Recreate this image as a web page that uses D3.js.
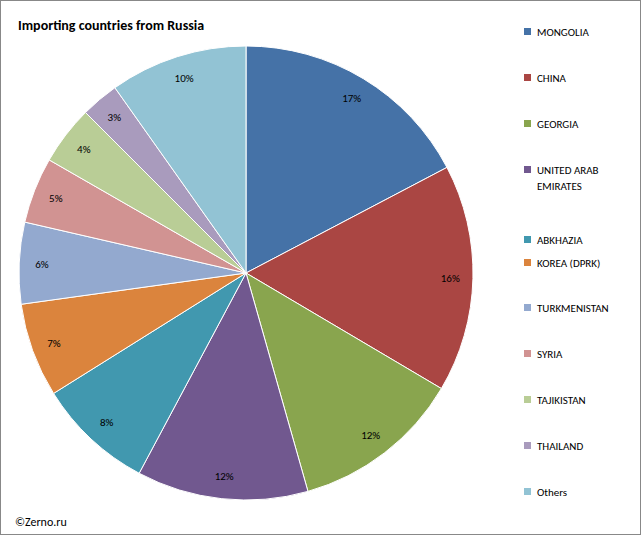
<!DOCTYPE html>
<html><head><meta charset="utf-8">
<script src="https://cdn.jsdelivr.net/npm/d3@7"></script>
<style>body{margin:0;background:#fff}svg{font-family:Calibri,Carlito,"Liberation Sans",Arial,sans-serif}</style>
</head><body>
<script>
const countries = ["MONGOLIA","CHINA","GEORGIA","UNITED ARAB EMIRATES","ABKHAZIA","KOREA (DPRK)","TURKMENISTAN","SYRIA","TAJIKISTAN","THAILAND","Others"];
const shares = [17.3,16.2,12.1,12.2,8.3,6.7,5.8,4.7,4.2,2.7,9.8];
const shareLabels = ["17%","16%","12%","12%","8%","7%","6%","5%","4%","3%","10%"];
const colors = ["#4572A7","#AA4643","#89A54E","#71588F","#4198AF","#DB843D","#93A9CF","#D19392","#B9CD96","#A99BBD","#92C3D4"];
const legendY = [32,78,124,170,240,263,308,354,400,446,492];

const W = 641, H = 535, cx = 246, cy = 273, r = 227;
const svg = d3.select("body").append("svg").attr("width", W).attr("height", H);
svg.append("rect").attr("x",0.5).attr("y",0.5).attr("width",W-1).attr("height",H-1)
  .attr("fill","#fff").attr("stroke","#888");

svg.append("text").attr("x",18).attr("y",30).attr("font-size",14).attr("font-weight","bold")
  .text("Importing countries from Russia");

const pie = d3.pie().sort(null)(shares);
const arc = d3.arc().innerRadius(0).outerRadius(r);
const g = svg.append("g").attr("transform",`translate(${cx},${cy})`);
g.selectAll("path").data(pie).join("path")
  .attr("d", arc).attr("fill",(d,i)=>colors[i]).attr("stroke","#fff").attr("stroke-width",1);
const lab = d3.arc().innerRadius(r*0.9).outerRadius(r*0.9);
g.selectAll("text").data(pie).join("text")
  .attr("transform", d=>`translate(${lab.centroid(d)})`)
  .attr("text-anchor","middle").attr("dy","0.35em").attr("font-size",11)
  .text((d,i)=>shareLabels[i]);

const leg = svg.append("g");
countries.forEach((c,i)=>{
  const y = legendY[i];
  leg.append("rect").attr("x",524).attr("y",y-4).attr("width",7).attr("height",7).attr("fill",colors[i]);
  const t = leg.append("text").attr("x",537).attr("y",y+4).attr("font-size",11);
  if (c === "UNITED ARAB EMIRATES") {
    t.append("tspan").attr("x",537).text("UNITED ARAB");
    t.append("tspan").attr("x",537).attr("dy",16).text("EMIRATES");
  } else t.text(c);
});

svg.append("text").attr("x",15).attr("y",526).attr("font-size",12).text("©Zerno.ru");
</script>
</body></html>
